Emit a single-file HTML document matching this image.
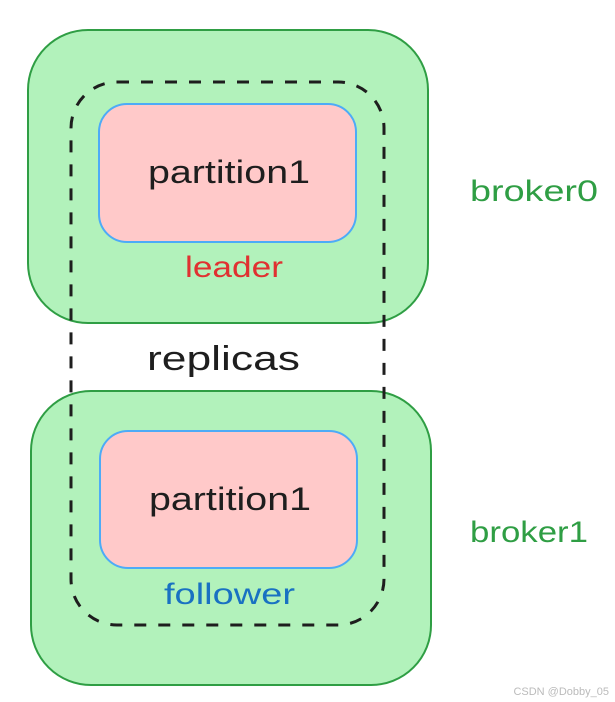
<!DOCTYPE html>
<html><head><style>body{margin:0;background:#fff}svg{display:block}</style></head>
<body>
<svg width="615" height="702" viewBox="0 0 615 702" xmlns="http://www.w3.org/2000/svg" font-family="'Liberation Sans', sans-serif">
<rect x="28" y="30" width="400" height="293" rx="60" fill="#b2f2bb" stroke="#2f9e44" stroke-width="2"/>
<rect x="31" y="391" width="400" height="294" rx="60" fill="#b2f2bb" stroke="#2f9e44" stroke-width="2"/>
<rect x="99" y="104" width="257" height="138" rx="28" fill="#ffc9c9" stroke="#4dabf7" stroke-width="2"/>
<rect x="100" y="431" width="257" height="137" rx="28" fill="#ffc9c9" stroke="#4dabf7" stroke-width="2"/>
<rect x="71" y="82" width="313" height="543" rx="46" fill="none" stroke="#1e1e1e" stroke-width="3" stroke-dasharray="12 12"/>
<text x="148" y="183" font-size="32" textLength="162" lengthAdjust="spacingAndGlyphs" fill="#1e1e1e">partition1</text>
<text x="149" y="510" font-size="32" textLength="162" lengthAdjust="spacingAndGlyphs" fill="#1e1e1e">partition1</text>
<text x="185" y="277" font-size="30" textLength="98" lengthAdjust="spacingAndGlyphs" fill="#e03131">leader</text>
<text x="164" y="604" font-size="30" textLength="131" lengthAdjust="spacingAndGlyphs" fill="#1971c2">follower</text>
<text x="147" y="370" font-size="34" textLength="153" lengthAdjust="spacingAndGlyphs" fill="#1e1e1e">replicas</text>
<text x="470" y="201" font-size="30" textLength="128" lengthAdjust="spacingAndGlyphs" fill="#2f9e44">broker0</text>
<text x="470" y="542" font-size="30" textLength="118" lengthAdjust="spacingAndGlyphs" fill="#2f9e44">broker1</text>
<text x="609" y="695" font-size="11" text-anchor="end" fill="#bbb">CSDN @Dobby_05</text>
</svg>
</body></html>
